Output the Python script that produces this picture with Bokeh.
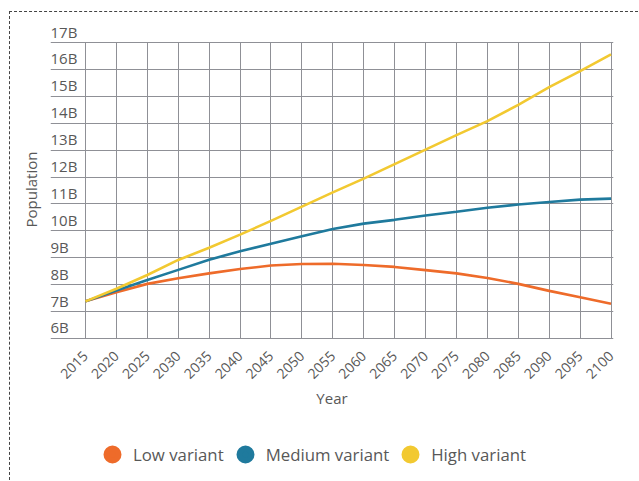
import math
from bokeh.plotting import figure
from bokeh.layouts import column
from bokeh.models import Range1d, FixedTicker, Legend, LegendItem
from bokeh.core.properties import value
from bokeh.embed import file_html
from bokeh.resources import INLINE

# ---- data (billions) ----
years = [2015, 2020, 2025, 2030, 2035, 2040, 2045, 2050, 2055, 2060,
         2065, 2070, 2075, 2080, 2085, 2090, 2095, 2100]
low_variant = [7.38, 7.72, 8.03, 8.24, 8.42, 8.58, 8.71, 8.77, 8.78, 8.73,
               8.66, 8.54, 8.42, 8.25, 8.03, 7.77, 7.53, 7.29]
medium_variant = [7.38, 7.78, 8.17, 8.55, 8.93, 9.24, 9.52, 9.80, 10.07, 10.27,
                  10.41, 10.57, 10.71, 10.86, 10.98, 11.07, 11.16, 11.20]
high_variant = [7.38, 7.85, 8.36, 8.92, 9.37, 9.86, 10.37, 10.90, 11.43, 11.94,
                12.48, 13.02, 13.56, 14.08, 14.68, 15.34, 15.94, 16.56]
y_ticks = [6, 7, 8, 9, 10, 11, 12, 13, 14, 15, 16, 17]
y_tick_labels = [f"{v}B" for v in y_ticks]
series_names = ["Low variant", "Medium variant", "High variant"]
series_colors = ["#EE6B2A", "#1F7A9D", "#F2C931"]
series_values = [low_variant, medium_variant, high_variant]

FONT = "Open Sans"
TXT = "#585858"
GRID = "#8f9096"

x_start, x_end = 2009.34, 2100.4
y_start, y_end = 5.405, 17.67

p = figure(width=628, height=412, output_backend="svg", toolbar_location=None,
           x_range=Range1d(x_start, x_end), y_range=Range1d(y_start, y_end),
           min_border_left=40, min_border_right=25, min_border_top=12,
           min_border_bottom=70)
p.outline_line_color = None
p.background_fill_color = "white"

# grids
p.xgrid.ticker = FixedTicker(ticks=years)
p.ygrid.ticker = FixedTicker(ticks=y_ticks)
for g in (p.xgrid[0], p.ygrid[0]):
    g.grid_line_color = GRID
    g.grid_line_width = 1
if "cross_bounds" in p.xgrid[0].properties():
    p.xgrid[0].cross_bounds = (y_ticks[0], y_ticks[-1])

# x axis
p.xaxis.ticker = FixedTicker(ticks=years)
p.xaxis.axis_line_color = None
p.xaxis.major_tick_line_color = None
p.xaxis.major_tick_out = 0
p.xaxis.minor_tick_line_color = None
p.xaxis.major_label_orientation = math.pi / 4
p.xaxis.major_label_standoff = -1
p.xaxis.major_label_text_font = FONT
p.xaxis.major_label_text_font_size = "14px"
p.xaxis.major_label_text_color = TXT
p.xaxis.axis_label = "Year"
p.xaxis.axis_label_text_font = FONT
p.xaxis.axis_label_text_font_size = "15px"
p.xaxis.axis_label_text_font_style = "normal"
p.xaxis.axis_label_text_color = TXT
p.xaxis.axis_label_standoff = 2

# y axis (label only)
p.yaxis.ticker = FixedTicker(ticks=[])
p.yaxis.axis_line_color = None
p.yaxis.major_tick_line_color = None
p.yaxis.major_tick_out = 0
p.yaxis.minor_tick_line_color = None
p.yaxis.axis_label = "Population"
p.yaxis.axis_label_text_font = FONT
p.yaxis.axis_label_text_font_size = "15px"
p.yaxis.axis_label_text_font_style = "normal"
p.yaxis.axis_label_text_color = TXT
p.yaxis.axis_label_standoff = 10

# y tick labels sitting above the gridlines
p.text(x=[x_start] * len(y_ticks), y=y_ticks, text=y_tick_labels,
       text_font=value(FONT), text_font_size="15px", text_color=TXT,
       text_align="left", text_baseline="bottom", y_offset=-1)

# lines
for vals, col in zip(series_values, series_colors):
    p.line(years, vals, line_color=col, line_width=2.6)

# legend strip below the chart (series points lie outside its ranges)
lf = figure(width=628, height=56, output_backend="svg", toolbar_location=None,
            x_range=Range1d(0, 1), y_range=Range1d(0, 1),
            min_border=0, x_axis_location=None, y_axis_location=None)
lf.grid.visible = False
lf.outline_line_color = None
items = []
for name, vals, col in zip(series_names, series_values, series_colors):
    r = lf.scatter(years, vals, marker="circle", size=10, fill_color=col,
                   line_color=col, line_width=6)
    items.append(LegendItem(label=name, renderers=[r]))
legend = Legend(items=items, orientation="horizontal", location=(47, 11),
                glyph_width=30, glyph_height=30, label_standoff=6, spacing=6,
                padding=0, margin=0, border_line_color=None,
                background_fill_alpha=0,
                label_text_font=FONT, label_text_font_size="16.8px",
                label_text_color=TXT)
lf.add_layout(legend, "center")

layout = column(p, lf, spacing=0, margin=(11, 0, 0, 9),
                styles={"border-left": "1px dashed #444",
                        "border-top": "1px dashed #444"})

open("out.html", "w").write(file_html(layout, INLINE))
